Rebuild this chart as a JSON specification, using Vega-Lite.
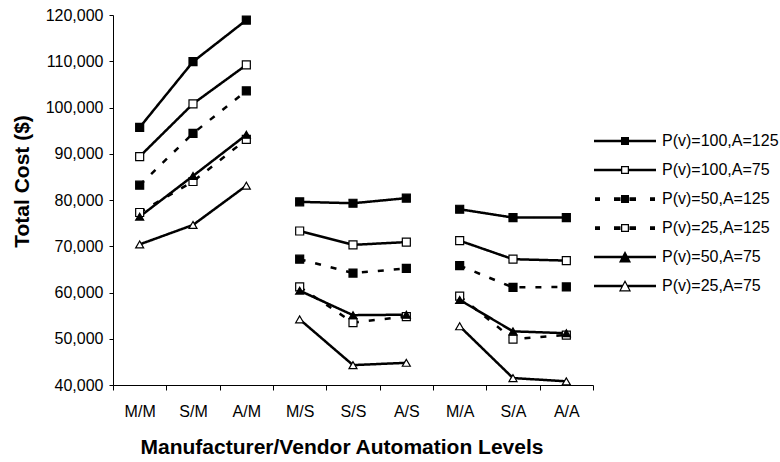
{
  "$schema": "https://vega.github.io/schema/vega-lite/v6.json",
  "width": 480,
  "height": 370,
  "autosize": {"type": "none"},
  "padding": {"left": 113, "top": 15, "right": 187, "bottom": 77},
  "background": "white",
  "config": {
    "view": {"stroke": null},
    "font": "Liberation Sans",
    "axis": {
      "domainColor": "black", "domainWidth": 1, "tickColor": "black", "tickWidth": 1,
      "labelColor": "black", "titleColor": "black", "labelFont": "Liberation Sans",
      "titleFont": "Liberation Sans", "grid": false, "labelFontSize": 16,
      "titleFontSize": 21, "titleFontWeight": "bold"
    }
  },
  "data": {"values": [
    {"level": "M/M", "group": "M", "series": "P(v)=100,A=125", "cost": 95700},
    {"level": "S/M", "group": "M", "series": "P(v)=100,A=125", "cost": 109900},
    {"level": "A/M", "group": "M", "series": "P(v)=100,A=125", "cost": 118900},
    {"level": "M/S", "group": "S", "series": "P(v)=100,A=125", "cost": 79600},
    {"level": "S/S", "group": "S", "series": "P(v)=100,A=125", "cost": 79300},
    {"level": "A/S", "group": "S", "series": "P(v)=100,A=125", "cost": 80400},
    {"level": "M/A", "group": "A", "series": "P(v)=100,A=125", "cost": 78000},
    {"level": "S/A", "group": "A", "series": "P(v)=100,A=125", "cost": 76200},
    {"level": "A/A", "group": "A", "series": "P(v)=100,A=125", "cost": 76200},
    {"level": "M/M", "group": "M", "series": "P(v)=100,A=75", "cost": 89400},
    {"level": "S/M", "group": "M", "series": "P(v)=100,A=75", "cost": 100800},
    {"level": "A/M", "group": "M", "series": "P(v)=100,A=75", "cost": 109200},
    {"level": "M/S", "group": "S", "series": "P(v)=100,A=75", "cost": 73300},
    {"level": "S/S", "group": "S", "series": "P(v)=100,A=75", "cost": 70300},
    {"level": "A/S", "group": "S", "series": "P(v)=100,A=75", "cost": 70900},
    {"level": "M/A", "group": "A", "series": "P(v)=100,A=75", "cost": 71200},
    {"level": "S/A", "group": "A", "series": "P(v)=100,A=75", "cost": 67200},
    {"level": "A/A", "group": "A", "series": "P(v)=100,A=75", "cost": 66900},
    {"level": "M/M", "group": "M", "series": "P(v)=50,A=125", "cost": 83200},
    {"level": "S/M", "group": "M", "series": "P(v)=50,A=125", "cost": 94400},
    {"level": "A/M", "group": "M", "series": "P(v)=50,A=125", "cost": 103600},
    {"level": "M/S", "group": "S", "series": "P(v)=50,A=125", "cost": 67200},
    {"level": "S/S", "group": "S", "series": "P(v)=50,A=125", "cost": 64200},
    {"level": "A/S", "group": "S", "series": "P(v)=50,A=125", "cost": 65200},
    {"level": "M/A", "group": "A", "series": "P(v)=50,A=125", "cost": 65800},
    {"level": "S/A", "group": "A", "series": "P(v)=50,A=125", "cost": 61100},
    {"level": "A/A", "group": "A", "series": "P(v)=50,A=125", "cost": 61200},
    {"level": "M/M", "group": "M", "series": "P(v)=25,A=125", "cost": 77300},
    {"level": "S/M", "group": "M", "series": "P(v)=25,A=125", "cost": 84000},
    {"level": "A/M", "group": "M", "series": "P(v)=25,A=125", "cost": 93100},
    {"level": "M/S", "group": "S", "series": "P(v)=25,A=125", "cost": 61200},
    {"level": "S/S", "group": "S", "series": "P(v)=25,A=125", "cost": 53500},
    {"level": "A/S", "group": "S", "series": "P(v)=25,A=125", "cost": 54800},
    {"level": "M/A", "group": "A", "series": "P(v)=25,A=125", "cost": 59200},
    {"level": "S/A", "group": "A", "series": "P(v)=25,A=125", "cost": 49900},
    {"level": "A/A", "group": "A", "series": "P(v)=25,A=125", "cost": 50800},
    {"level": "M/M", "group": "M", "series": "P(v)=50,A=75", "cost": 76400},
    {"level": "S/M", "group": "M", "series": "P(v)=50,A=75", "cost": 85200},
    {"level": "A/M", "group": "M", "series": "P(v)=50,A=75", "cost": 94100},
    {"level": "M/S", "group": "S", "series": "P(v)=50,A=75", "cost": 60400},
    {"level": "S/S", "group": "S", "series": "P(v)=50,A=75", "cost": 55100},
    {"level": "A/S", "group": "S", "series": "P(v)=50,A=75", "cost": 55200},
    {"level": "M/A", "group": "A", "series": "P(v)=50,A=75", "cost": 58400},
    {"level": "S/A", "group": "A", "series": "P(v)=50,A=75", "cost": 51600},
    {"level": "A/A", "group": "A", "series": "P(v)=50,A=75", "cost": 51200},
    {"level": "M/M", "group": "M", "series": "P(v)=25,A=75", "cost": 70400},
    {"level": "S/M", "group": "M", "series": "P(v)=25,A=75", "cost": 74600},
    {"level": "A/M", "group": "M", "series": "P(v)=25,A=75", "cost": 83100},
    {"level": "M/S", "group": "S", "series": "P(v)=25,A=75", "cost": 54200},
    {"level": "S/S", "group": "S", "series": "P(v)=25,A=75", "cost": 44300},
    {"level": "A/S", "group": "S", "series": "P(v)=25,A=75", "cost": 44800},
    {"level": "M/A", "group": "A", "series": "P(v)=25,A=75", "cost": 52700},
    {"level": "S/A", "group": "A", "series": "P(v)=25,A=75", "cost": 41500},
    {"level": "A/A", "group": "A", "series": "P(v)=25,A=75", "cost": 40800}
  ]},
  "encoding": {
    "x": {
      "field": "level", "type": "ordinal",
      "sort": ["M/M", "S/M", "A/M", "M/S", "S/S", "A/S", "M/A", "S/A", "A/A"],
      "scale": {"type": "band", "paddingInner": 0, "paddingOuter": 0},
      "axis": {
        "title": "Manufacturer/Vendor Automation Levels", "labelAngle": 0,
        "tickBand": "extent", "tickSize": 5, "labelPadding": 13, "labelBaseline": "top",
        "titleX": 228.5, "titleY": 68, "titleAlign": "center", "titleBaseline": "alphabetic"
      }
    },
    "y": {
      "field": "cost", "type": "quantitative",
      "scale": {"domain": [40000, 120000], "nice": false, "zero": false},
      "axis": {
        "title": "Total Cost ($)", "values": [40000, 50000, 60000, 70000, 80000, 90000, 100000, 110000, 120000],
        "format": ",.0f", "tickSize": 4, "labelPadding": 6,
        "titleX": -85, "titleY": 166, "titleAlign": "center", "titleBaseline": "alphabetic", "titleAngle": -90
      }
    }
  },
  "layer": [
    {
      "mark": {"type": "line", "stroke": "black", "strokeWidth": 2.5, "strokeCap": "butt"},
      "encoding": {
        "detail": {"field": "group"},
        "strokeDash": {
          "field": "series", "type": "nominal", "legend": null,
          "scale": {
            "domain": ["P(v)=100,A=125", "P(v)=100,A=75", "P(v)=50,A=125", "P(v)=25,A=125", "P(v)=50,A=75", "P(v)=25,A=75"],
            "range": [[1, 0], [1, 0], [6, 10], [6, 10], [1, 0], [1, 0]]
          }
        }
      }
    },
    {
      "mark": {"type": "point", "filled": true, "stroke": "black", "strokeWidth": 1.2, "opacity": 1},
      "encoding": {
        "shape": {
          "field": "series", "type": "nominal", "legend": null,
          "scale": {
            "domain": ["P(v)=100,A=125", "P(v)=100,A=75", "P(v)=50,A=125", "P(v)=25,A=125", "P(v)=50,A=75", "P(v)=25,A=75"],
            "range": ["square", "square", "square", "square", "triangle-up", "triangle-up"]
          }
        },
        "fill": {
          "field": "series", "type": "nominal", "legend": null,
          "scale": {
            "domain": ["P(v)=100,A=125", "P(v)=100,A=75", "P(v)=50,A=125", "P(v)=25,A=125", "P(v)=50,A=75", "P(v)=25,A=75"],
            "range": ["black", "white", "black", "white", "black", "white"]
          }
        },
        "size": {
          "field": "series", "type": "nominal", "legend": null,
          "scale": {
            "domain": ["P(v)=100,A=125", "P(v)=100,A=75", "P(v)=50,A=125", "P(v)=25,A=125", "P(v)=50,A=75", "P(v)=25,A=75"],
            "range": [64, 64, 64, 64, 100, 100]
          }
        }
      }
    },
    {
      "mark": {"type": "point", "filled": false, "stroke": "black", "strokeWidth": 1.25, "opacity": 0, "size": 100},
      "encoding": {
        "shape": {
          "field": "series", "type": "nominal",
          "scale": {
            "domain": ["P(v)=100,A=125", "P(v)=100,A=75", "P(v)=50,A=125", "P(v)=25,A=125", "P(v)=50,A=75", "P(v)=25,A=75"],
            "range": [
              "M-6.2,-0.125H6.2M-6.2,0.125H6.2M-0.8,-0.675H0.8M-0.8,-0.45H0.8M-0.8,-0.225H0.8M-0.8,0H0.8M-0.8,0.225H0.8M-0.8,0.45H0.8M-0.8,0.675H0.8",
              "M-6.2,-0.125H-0.675M-6.2,0.125H-0.675M0.675,-0.125H6.2M0.675,0.125H6.2M-0.675,-0.675H0.675V0.675H-0.675Z",
              "M-6,-0.25H-5M-6,0H-5M-6,0.25H-5M-2.2,-0.25H-0.9M-2.2,0H-0.9M-2.2,0.25H-0.9M0.9,-0.25H2.2M0.9,0H2.2M0.9,0.25H2.2M5,-0.25H6M5,0H6M5,0.25H6M-0.8,-0.675H0.8M-0.8,-0.45H0.8M-0.8,-0.225H0.8M-0.8,0H0.8M-0.8,0.225H0.8M-0.8,0.45H0.8M-0.8,0.675H0.8",
              "M-6,-0.25H-5M-6,0H-5M-6,0.25H-5M-2.2,-0.25H-0.9M-2.2,0H-0.9M-2.2,0.25H-0.9M0.9,-0.25H2.2M0.9,0H2.2M0.9,0.25H2.2M5,-0.25H6M5,0H6M5,0.25H6M-0.675,-0.675H0.675V0.675H-0.675Z",
              "M-6.2,-0.125H6.2M-6.2,0.125H6.2M0,-0.95L1,0.95H-1ZM-0.13,-0.7H0.13M-0.26,-0.45H0.26M-0.39,-0.2H0.39M-0.53,0.05H0.53M-0.66,0.3H0.66M-0.79,0.55H0.79M-0.92,0.8H0.92",
              "M-6.2,-0.125H-0.5M-6.2,0.125H-0.5M0.5,-0.125H6.2M0.5,0.125H6.2M0,-0.95L1,0.95H-1Z"
            ]
          },
          "legend": {
            "title": null, "orient": "none", "legendX": 504, "legendY": 118, "padding": 0,
            "symbolSize": 100, "symbolStrokeWidth": 1.25, "symbolStrokeColor": "black",
            "symbolFillColor": "transparent", "symbolOpacity": 1,
            "labelFontSize": 16, "labelFont": "Liberation Sans", "labelColor": "black",
            "labelOffset": 29, "rowPadding": 13, "labelLimit": 300
          }
        }
      }
    }
  ],
  "resolve": {"scale": {"shape": "independent"}}
}
